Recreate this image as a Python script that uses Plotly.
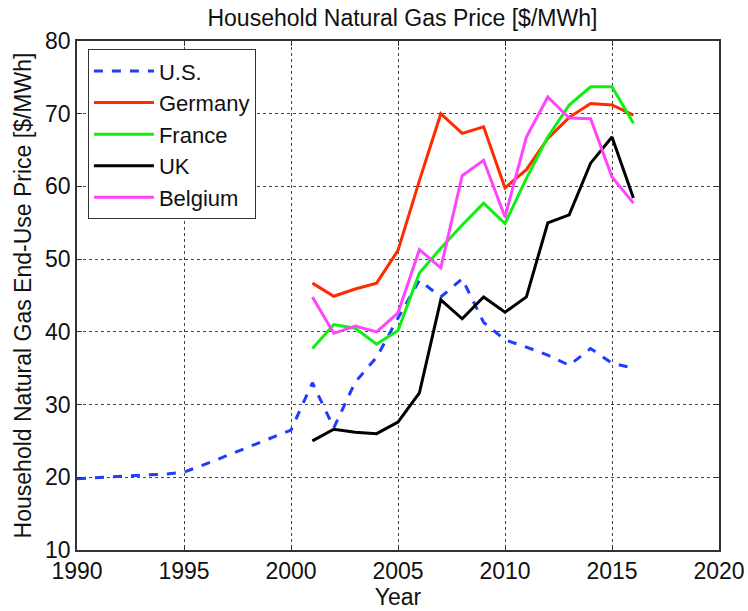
import plotly.graph_objects as go

years_us = list(range(1990, 2017))
us = [19.8, 20.0, 20.2, 20.3, 20.4, 20.7, 21.8, 23.0, 24.2, 25.3, 26.5,
      33.0, 26.8, 33.1, 36.5, 41.9, 47.1, 44.8, 47.3, 41.3, 38.9, 37.9,
      36.8, 35.4, 37.7, 35.7, 35.0]

years_eu = list(range(2001, 2017))
germany = [46.7, 44.9, 45.9, 46.7, 51.2, 60.8, 70.0, 67.3, 68.2, 59.8, 62.3,
           66.6, 69.5, 71.4, 71.2, 69.8]
france = [37.7, 41.0, 40.5, 38.3, 40.2, 48.1, 51.5, 54.7, 57.7, 54.9, 61.1,
          66.8, 71.2, 73.7, 73.7, 68.7]
uk = [25.0, 26.6, 26.2, 26.0, 27.6, 31.6, 44.4, 41.8, 44.8, 42.7, 44.8,
      55.0, 56.1, 63.2, 66.8, 58.4]
belgium = [44.8, 39.8, 40.8, 40.0, 42.6, 51.3, 48.8, 61.5, 63.6, 55.8, 66.8,
           72.3, 69.4, 69.3, 61.3, 57.7]

x_ticks = [1990, 1995, 2000, 2005, 2010, 2015, 2020]
y_ticks = [10, 20, 30, 40, 50, 60, 70, 80]

FONT = "Liberation Sans, Arial, sans-serif"
FS = 23

fig = go.Figure()
fig.add_trace(go.Scatter(x=years_us, y=us, mode="lines", name="U.S.",
                         line=dict(color="#1f3cff", width=3, dash="dash")))
fig.add_trace(go.Scatter(x=years_eu, y=germany, mode="lines", name="Germany",
                         line=dict(color="#ff2a00", width=3)))
fig.add_trace(go.Scatter(x=years_eu, y=france, mode="lines", name="France",
                         line=dict(color="#11ee11", width=3)))
fig.add_trace(go.Scatter(x=years_eu, y=uk, mode="lines", name="UK",
                         line=dict(color="#000000", width=3)))
fig.add_trace(go.Scatter(x=years_eu, y=belgium, mode="lines", name="Belgium",
                         line=dict(color="#ff44ff", width=3)))

axis_common = dict(showline=True, linecolor="#333333", linewidth=1.5, mirror="allticks",
                   ticks="inside", ticklen=5, tickcolor="#333333",
                   showgrid=True, gridcolor="#444444", griddash="dot", gridwidth=1,
                   zeroline=False, automargin=False,
                   tickfont=dict(family=FONT, size=FS, color="#111111"))

fig.update_layout(
    width=748, height=611,
    paper_bgcolor="white", plot_bgcolor="white",
    margin=dict(l=77, r=29, t=41, b=61),
    title=dict(text="Household Natural Gas Price [$/MWh]", x=0.538, xanchor="center",
               y=0.971, yanchor="middle",
               font=dict(family=FONT, size=FS, color="#111111")),
    xaxis=dict(range=[1990, 2020], tickvals=x_ticks, ticklabelstandoff=0,
               title=dict(text="Year", standoff=0, font=dict(family=FONT, size=FS, color="#111111")),
               **axis_common),
    yaxis=dict(range=[10, 80], tickvals=y_ticks, ticklabelstandoff=0,
               title=dict(text="Household Natural Gas End-Use Price [$/MWh]", standoff=7,
                          font=dict(family=FONT, size=FS, color="#111111")),
               **axis_common),
    legend=dict(x=0.017, y=0.984, xanchor="left", yanchor="top",
                bgcolor="white", bordercolor="#333333", borderwidth=1,
                font=dict(family=FONT, size=22, color="#111111"),
                itemwidth=60, tracegroupgap=0),
    showlegend=True,
)

fig.write_html("out.html", config={"displayModeBar": False},
               post_script="document.body.style.margin='0';document.body.style.overflow='hidden';")
